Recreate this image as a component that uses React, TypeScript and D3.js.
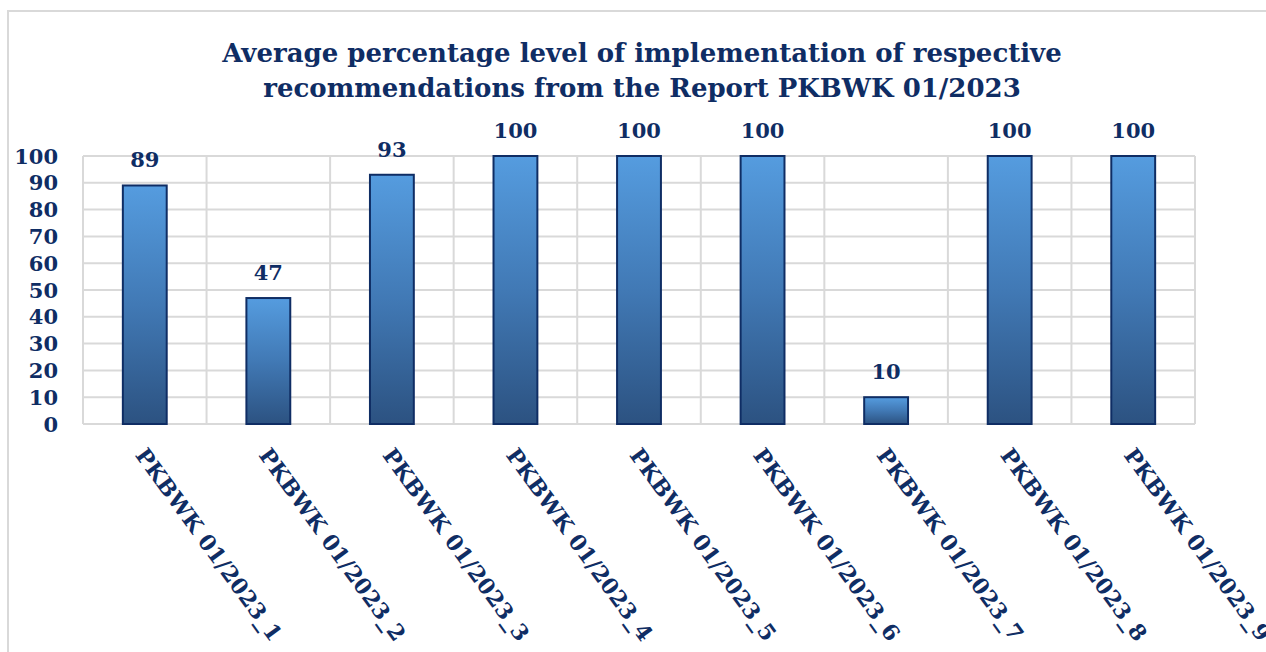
import React from "react";
import * as d3 from "d3";

const categories = [
  "PKBWK 01/2023_1",
  "PKBWK 01/2023_2",
  "PKBWK 01/2023_3",
  "PKBWK 01/2023_4",
  "PKBWK 01/2023_5",
  "PKBWK 01/2023_6",
  "PKBWK 01/2023_7",
  "PKBWK 01/2023_8",
  "PKBWK 01/2023_9",
];
const values = [89, 47, 93, 100, 100, 100, 10, 100, 100];
const yTicks = [0, 10, 20, 30, 40, 50, 60, 70, 80, 90, 100];
const titleLines = [
  "Average percentage level of implementation of respective",
  "recommendations from the Report PKBWK 01/2023",
];

const W = 1266;
const H = 652;
const plot = { left: 83, right: 1195, top: 156, bottom: 424 };
const navy = "#0f2d64";
const grid = "#d9d9d9";
const font = "'DejaVu Serif', serif";

export default function App() {
  const x = d3
    .scaleBand<string>()
    .domain(categories)
    .range([plot.left, plot.right])
    .paddingInner(0)
    .paddingOuter(0);
  const y = d3.scaleLinear().domain([0, 100]).range([plot.bottom, plot.top]);
  const bw = x.bandwidth() * 0.355;
  const boundaries = d3.range(categories.length + 1).map((i) => plot.left + i * x.step());

  return (
    <svg
      width={W}
      height={H}
      style={{ position: "absolute", left: 0, top: 0, background: "#fff" }}
    >
      <defs>
        <linearGradient id="barGrad" x1="0" y1="0" x2="0" y2="1">
          <stop offset="0%" stopColor="#559cdf" />
          <stop offset="50%" stopColor="#4179b5" />
          <stop offset="100%" stopColor="#2c5281" />
        </linearGradient>
      </defs>
      <rect x={8} y={11} width={W + 20} height={H + 20} fill="#fff" stroke={grid} strokeWidth={2} />

      {titleLines.map((t, i) => (
        <text
          key={i}
          x={642}
          y={62 + i * 35}
          textAnchor="middle"
          fontFamily={font}
          fontWeight="bold"
          fontSize={26}
          fill={navy}
        >
          {t}
        </text>
      ))}

      {yTicks.map((t) => (
        <line key={"h" + t} x1={plot.left} x2={plot.right} y1={y(t)} y2={y(t)} stroke={grid} strokeWidth={2} />
      ))}
      {boundaries.map((bx, i) => (
        <line key={"v" + i} x1={bx} x2={bx} y1={plot.top} y2={plot.bottom} stroke={grid} strokeWidth={2} />
      ))}

      {yTicks.map((t) => (
        <text
          key={"yl" + t}
          x={58}
          y={y(t)}
          dy="0.36em"
          textAnchor="end"
          fontFamily={font}
          fontWeight="bold"
          fontSize={21}
          fill={navy}
        >
          {t}
        </text>
      ))}

      {categories.map((c, i) => {
        const cx = (x(c) as number) + x.bandwidth() / 2;
        return (
          <g key={c}>
            <rect
              x={cx - bw / 2}
              y={y(values[i])}
              width={bw}
              height={y(0) - y(values[i])}
              fill="url(#barGrad)"
              stroke={navy}
              strokeWidth={2}
            />
            <text
              x={cx}
              y={y(values[i]) - 18}
              textAnchor="middle"
              fontFamily={font}
              fontWeight="bold"
              fontSize={21}
              fill={navy}
            >
              {values[i]}
            </text>
            <text
              transform={`translate(${cx + 4},${445}) rotate(54)`}
              dy="0.8em"
              fontFamily={font}
              fontWeight="bold"
              fontSize={22}
              fill={navy}
            >
              {c}
            </text>
          </g>
        );
      })}
    </svg>
  );
}
